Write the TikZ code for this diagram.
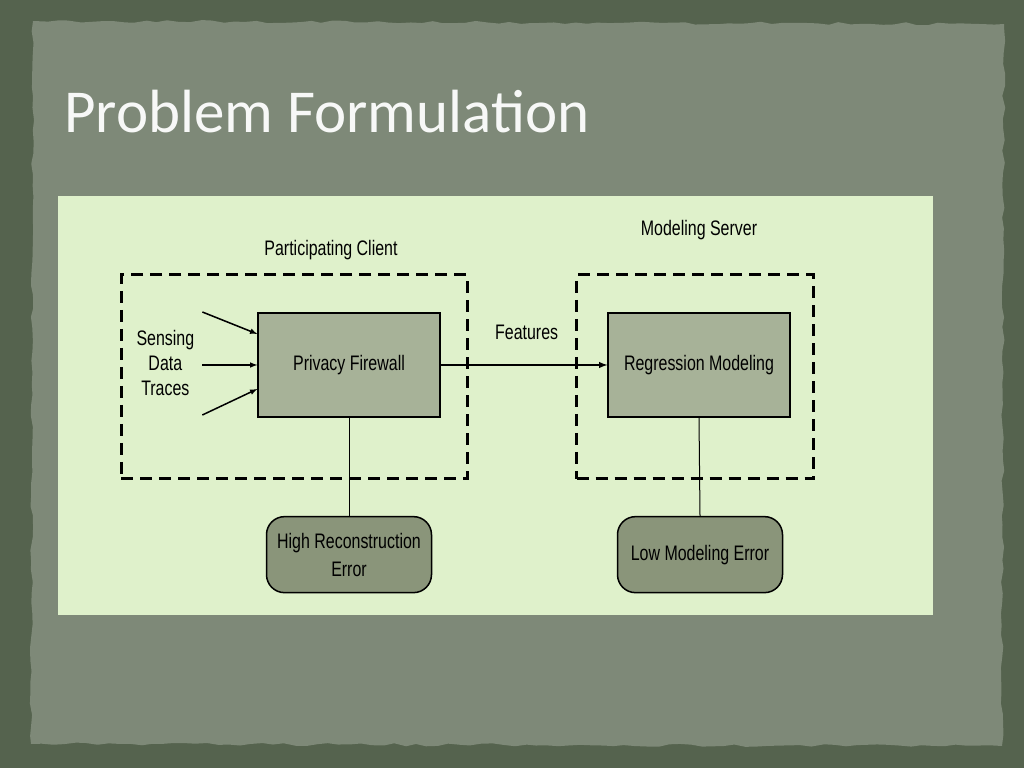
\documentclass[tikz,border=0pt]{standalone}
\usepackage{fontspec}
\setmainfont[FakeStretch=0.76]{Liberation Sans}
\newfontfamily\titlefont{Carlito}
\usepackage{tikz}
\usetikzlibrary{shapes.geometric, arrows}
\usetikzlibrary{positioning,shapes}
\usetikzlibrary{decorations.pathmorphing}
\definecolor{slateback}{HTML}{55634E}
\definecolor{paper}{HTML}{7E8978}
\definecolor{panel}{HTML}{DFF1CB}
\definecolor{blockfill}{HTML}{A7B298}
\definecolor{errfill}{HTML}{8A957A}
\tikzstyle{block} = [rectangle, minimum width=182pt, minimum height=104pt, text centered, draw=black, line width=1.3pt, fill=blockfill, font=\fontsize{21}{24}\selectfont]
\tikzstyle{group} = [rectangle, draw=black, line width=3pt, dash pattern=on 12pt off 7pt]
\tikzstyle{result} = [rectangle, rounded corners=18pt, minimum width=165pt, minimum height=76pt, align=center, draw=black, line width=1.5pt, fill=errfill, font=\fontsize{21}{28}\selectfont]
\tikzstyle{boxtitle} = [font=\fontsize{21}{25}\selectfont]
\tikzstyle{arrow} = [line width=1.5pt,->,>=latex]

\begin{document}
\begin{tikzpicture}[x=1pt,y=1pt]
 \useasboundingbox (0,0) rectangle (1024,768);
 \pgfmathsetseed{7}
 \fill[slateback] (0,0) rectangle (1024,768);
 \fill[paper, decorate, decoration={random steps, segment length=11pt, amplitude=1.5pt}]
      (31,24) -- (1002,22) -- (1004,744) -- (33,747) -- cycle;
 \fill[panel] (58,153) rectangle (933,572);
 \node[anchor=base west, inner sep=0pt, text=white!94!paper, font=\titlefont\fontsize{61}{61}\selectfont] (title) at (64,635)
              {Problem Formulation};
 \node[block] (firewall) at (349,403)
              {Privacy Firewall};
 \node[block] (regress) at (firewall) [xshift=350pt]
              {Regression Modeling};
 \node[group, minimum width=346pt, minimum height=204pt] (client) at (firewall) [xshift=-55pt,yshift=-12pt] {};
 \node[group, minimum width=237pt, minimum height=204pt] (server) at (regress) [xshift=-4pt,yshift=-12pt] {};
 \node[boxtitle] (clientname) at (client.north) [xshift=37pt,yshift=23pt]
              {Participating Client};
 \node[boxtitle] (servername) at (server.north) [xshift=4pt,yshift=43pt]
              {Modeling Server};
 \node[boxtitle, align=center] (traces) at (firewall.west) [xshift=-92pt,yshift=2pt]
              {Sensing\\Data\\Traces};
 \node[boxtitle] (features) at (firewall.east) [xshift=86pt,yshift=33pt]
              {Features};
 \node[result] (recon) at (firewall.south) [yshift=-137pt]
              {High Reconstruction\\Error};
 \node[result] (lowerr) at (regress.south) [xshift=1pt,yshift=-137pt]
              {Low Modeling Error};
 \coordinate (in1) at ([xshift=-55pt,yshift=53pt]firewall.west);
 \coordinate (in2) at ([xshift=-55pt,yshift=0pt]firewall.west);
 \coordinate (in3) at ([xshift=-55pt,yshift=-50pt]firewall.west);
% arrows
 \draw[arrow] (in1) -- ([yshift=31pt]firewall.west);
 \draw[arrow] (in2) -- (firewall.west);
 \draw[arrow] (in3) -- ([yshift=-24pt]firewall.west);
 \draw[arrow,line width=1.8pt] (firewall.east) -- (regress.west);
 \draw[line width=1pt] (firewall.south) -- (recon.north);
 \draw[line width=1pt] (regress.south) -- (lowerr.north);
\end{tikzpicture}
\end{document}
